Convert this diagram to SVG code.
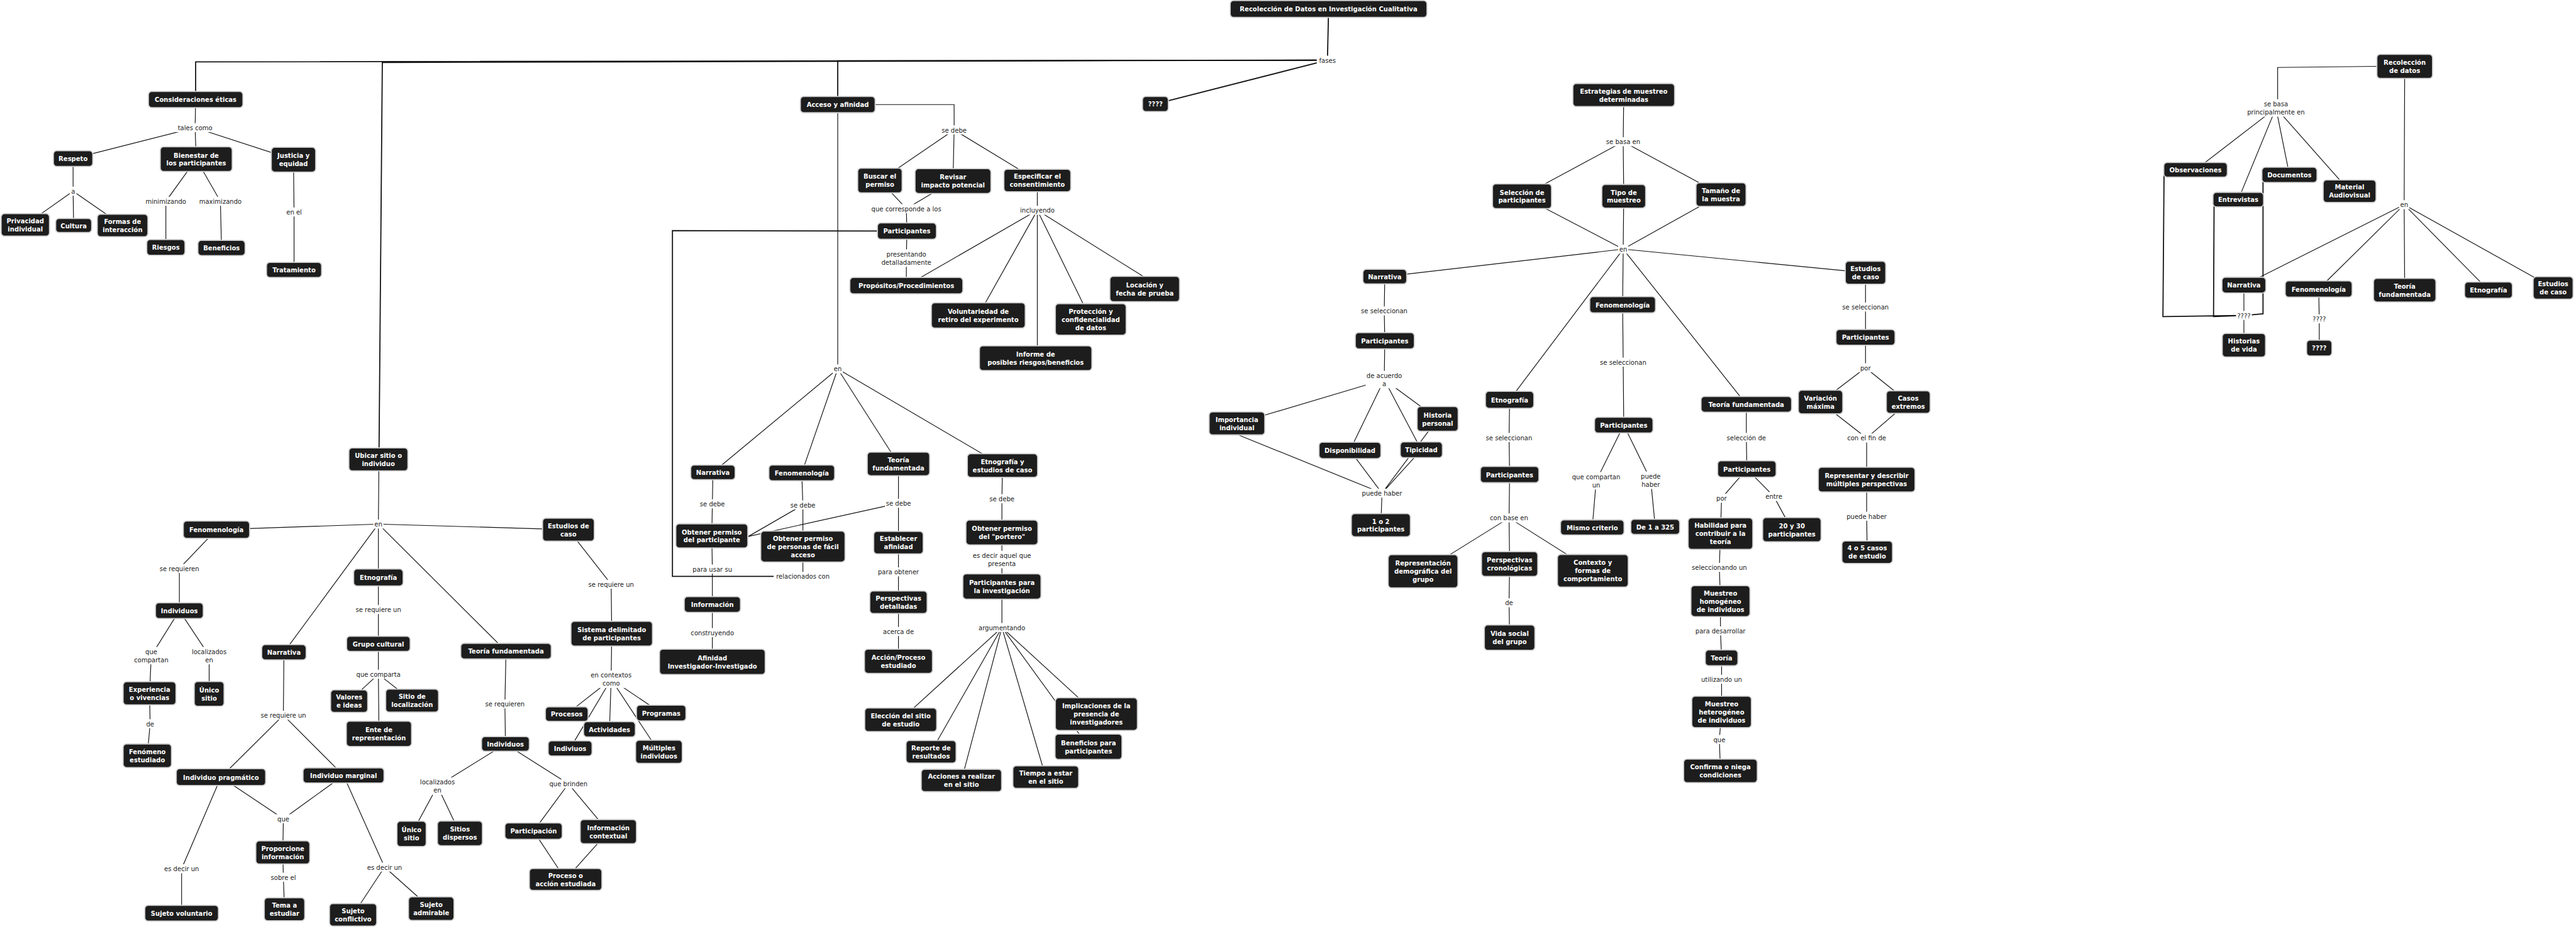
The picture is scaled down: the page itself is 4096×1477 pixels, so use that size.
<svg xmlns="http://www.w3.org/2000/svg" width="4096" height="1477" viewBox="0 0 4096 1477">
<style>
.bg{fill:#fff}
.c path{stroke:#111;stroke-width:1.3;fill:none}
.c path.t{stroke-width:2}
.n rect{fill:#1d1d1d;stroke:#cfcfcf;stroke-width:2;rx:6px;ry:6px}
.n text{fill:#fff;font-family:"DejaVu Sans Condensed","DejaVu Sans",sans-serif;font-stretch:condensed;font-weight:bold;font-size:12.5px;text-anchor:middle}
.l rect{fill:#fff}
.l text{fill:#1a1a1a;font-family:"DejaVu Sans Condensed","DejaVu Sans",sans-serif;font-stretch:condensed;font-size:12.5px;text-anchor:middle}
</style>
<rect class="bg" x="0" y="0" width="4096" height="1477"/>
<g transform="scale(0.894)">
<g id="connectors" class="c">
<path class="t" d="M2363 16L2361 107"/>
<path class="t" d="M2361 107L348 110L348 177"/>
<path class="t" d="M2361 107L680 111L674 817"/>
<path class="t" d="M2361 107L1490 108L1490 186"/>
<path class="t" d="M2361 107L2055 185"/>
<path d="M348 177L347 227M347 227L130 282M347 227L349 283M347 227L522 284"/>
<path d="M130 282L130 340M130 340L45 400M130 340L131 401M130 340L218 401"/>
<path d="M349 283L295 358L295 440M349 283L392 358L394 441M522 284L523 377L523 480"/>
<path d="M674 817L673 932M673 932L385 942M673 932L1011 942M673 932L673 1027M673 932L505 1160M673 932L900 1158"/>
<path d="M385 942L319 1011L319 1086M319 1086L269 1166L266 1233L267 1287L262 1344M319 1086L372 1166L372 1234"/>
<path d="M673 1027L673 1084L673 1145L673 1199L674 1305M673 1199L621 1247M673 1199L733 1246"/>
<path d="M505 1160L504 1272M504 1272L393 1382M504 1272L611 1379M393 1382L504 1456M611 1379L504 1456M504 1456L503 1516L504 1560L506 1617"/>
<path d="M393 1382L323 1545L323 1624M611 1379L684 1542M684 1542L628 1627M684 1542L767 1616"/>
<path d="M900 1158L898 1252L899 1323M899 1323L778 1398M778 1398L732 1483M778 1398L818 1482M899 1323L1011 1394M1011 1394L949 1478M1011 1394L1082 1479M949 1478L1006 1564M1082 1479L1006 1564"/>
<path d="M1011 942L1087 1039L1088 1127L1087 1208M1087 1208L1008 1270M1087 1208L1084 1297M1087 1208L1014 1331M1087 1208L1176 1268M1087 1208L1172 1337"/>
<path d="M1556 186L1697 186L1697 231M1697 231L1565 321M1697 231L1695 322M1697 231L1845 321"/>
<path d="M1565 321L1612 371M1695 322L1612 371M1612 371L1613 411L1612 459L1612 508"/>
<path d="M1845 321L1845 374M1845 374L1612 508M1845 374L1740 561M1845 374L1845 637M1845 374L1940 568M1845 374L2034 492"/>
<path d="M1490 186L1490 656M1490 656L1268 840M1490 656L1426 841M1490 656L1598 825M1490 656L1783 828"/>
<path d="M1268 840L1267 896L1266 953L1267 1012L1267 1075L1267 1125L1267 1177"/>
<path d="M1426 841L1428 898L1428 972L1428 1025M1428 898L1331 954"/>
<path d="M1598 825L1598 895L1598 965L1598 1017L1598 1071L1598 1123L1598 1176M1598 895L1331 954"/>
<path d="M1783 828L1782 887L1782 947L1782 995L1782 1043L1782 1116"/>
<path d="M1782 1116L1602 1280M1782 1116L1656 1337M1782 1116L1710 1388M1782 1116L1860 1382M1782 1116L1950 1270M1782 1116L1936 1328"/>
<path class="t" d="M1428 1025L1196 1025L1196 410L1613 411"/>
<path d="M2888 169L2887 252M2887 252L2707 349M2887 252L2888 349M2887 252L3061 346M2707 349L2887 443M2888 349L2887 443M3061 346L2887 443"/>
<path d="M2887 443L2463 492M2887 443L2886 542M2887 443L3318 485M2887 443L2685 711M2887 443L3106 719"/>
<path d="M2463 492L2462 553L2463 606L2462 675M2462 675L2200 753M2462 675L2401 801M2462 675L2528 800M2462 675L2557 745"/>
<path d="M2204 774L2458 877M2401 801L2458 877M2528 800L2458 877M2557 745L2458 877M2458 877L2456 934"/>
<path d="M2685 711L2684 778L2685 844L2684 921M2684 921L2531 1016M2684 921L2685 1003M2684 921L2833 1015M2685 1003L2684 1072L2685 1134"/>
<path d="M2886 542L2887 644L2888 756M2888 756L2839 855L2832 938M2888 756L2936 854L2944 937"/>
<path d="M3106 719L3106 778L3107 834M3107 834L3062 886L3060 949M3107 834L3155 883L3187 942"/>
<path d="M3060 949L3058 1009L3060 1069L3060 1122L3062 1170L3062 1208L3062 1266L3058 1315L3060 1371"/>
<path d="M3318 485L3318 546L3318 600L3318 654M3318 654L3238 715M3318 654L3394 715M3238 715L3320 779M3394 715L3320 779M3320 779L3320 853L3320 918L3321 982"/>
<path d="M4227 118L4051 120L4051 192M4048 192L3905 302M4048 192L3981 355M4048 192L4072 311M4048 192L4179 340"/>
<path d="M4277 118L4276 364M4276 364L3991 507M4276 364L4124 514M4276 364L4277 516M4276 364L4426 516M4276 364L4541 512"/>
<path class="t" d="M3849 302L3847 563L3991 561M3938 355L3937 563L3991 561M4025 311L4025 558L3991 561"/>
<path d="M3991 507L3991 561L3991 614M4124 514L4125 567L4125 619"/>
</g>
<g id="labels" class="l">
<g><rect x="2342" y="99" width="38" height="16"/><text x="2361" y="111.5">fases</text></g>
<g><rect x="312" y="219" width="70" height="16"/><text x="347" y="231.5">tales como</text></g>
<g><rect x="124" y="332" width="12" height="16"/><text x="130" y="344.5">a</text></g>
<g><rect x="257" y="350" width="76" height="16"/><text x="295" y="362.5">minimizando</text></g>
<g><rect x="353" y="350" width="78" height="16"/><text x="392" y="362.5">maximizando</text></g>
<g><rect x="505" y="369" width="36" height="16"/><text x="523" y="381.5">en el</text></g>
<g><rect x="664" y="924" width="18" height="16"/><text x="673" y="936.5">en</text></g>
<g><rect x="279" y="1003" width="80" height="16"/><text x="319" y="1015.5">se requieren</text></g>
<g><rect x="236" y="1150.5" width="66" height="31"/><text x="269" y="1163.25">que<tspan x="269" dy="14.5">compartan</tspan></text></g>
<g><rect x="337" y="1150.5" width="70" height="31"/><text x="372" y="1163.25">localizados<tspan x="372" dy="14.5">en</tspan></text></g>
<g><rect x="258" y="1279" width="18" height="16"/><text x="267" y="1291.5">de</text></g>
<g><rect x="628" y="1076" width="90" height="16"/><text x="673" y="1088.5">se requiere un</text></g>
<g><rect x="632" y="1191" width="82" height="16"/><text x="673" y="1203.5">que comparta</text></g>
<g><rect x="459" y="1264" width="90" height="16"/><text x="504" y="1276.5">se requiere un</text></g>
<g><rect x="491" y="1448" width="26" height="16"/><text x="504" y="1460.5">que</text></g>
<g><rect x="478" y="1552" width="52" height="16"/><text x="504" y="1564.5">sobre el</text></g>
<g><rect x="289" y="1537" width="68" height="16"/><text x="323" y="1549.5">es decir un</text></g>
<g><rect x="650" y="1534" width="68" height="16"/><text x="684" y="1546.5">es decir un</text></g>
<g><rect x="858" y="1244" width="80" height="16"/><text x="898" y="1256.5">se requieren</text></g>
<g><rect x="743" y="1382.5" width="70" height="31"/><text x="778" y="1395.25">localizados<tspan x="778" dy="14.5">en</tspan></text></g>
<g><rect x="975" y="1386" width="72" height="16"/><text x="1011" y="1398.5">que brinden</text></g>
<g><rect x="1042" y="1031" width="90" height="16"/><text x="1087" y="1043.5">se requiere un</text></g>
<g><rect x="1047" y="1192.5" width="80" height="31"/><text x="1087" y="1205.25">en contextos<tspan x="1087" dy="14.5">como</tspan></text></g>
<g><rect x="1673" y="223" width="48" height="16"/><text x="1697" y="235.5">se debe</text></g>
<g><rect x="1544" y="363" width="136" height="16"/><text x="1612" y="375.5">que corresponde a los</text></g>
<g><rect x="1565" y="443.5" width="94" height="31"/><text x="1612" y="456.25">presentando<tspan x="1612" dy="14.5">detalladamente</tspan></text></g>
<g><rect x="1812" y="366" width="66" height="16"/><text x="1845" y="378.5">incluyendo</text></g>
<g><rect x="1481" y="648" width="18" height="16"/><text x="1490" y="660.5">en</text></g>
<g><rect x="1243" y="888" width="48" height="16"/><text x="1267" y="900.5">se debe</text></g>
<g><rect x="1404" y="890" width="48" height="16"/><text x="1428" y="902.5">se debe</text></g>
<g><rect x="1574" y="887" width="48" height="16"/><text x="1598" y="899.5">se debe</text></g>
<g><rect x="1758" y="879" width="48" height="16"/><text x="1782" y="891.5">se debe</text></g>
<g><rect x="1229" y="1004" width="76" height="16"/><text x="1267" y="1016.5">para usar su</text></g>
<g><rect x="1376" y="1017" width="104" height="16"/><text x="1428" y="1029.5">relacionados con</text></g>
<g><rect x="1227" y="1117" width="80" height="16"/><text x="1267" y="1129.5">construyendo</text></g>
<g><rect x="1559" y="1009" width="78" height="16"/><text x="1598" y="1021.5">para obtener</text></g>
<g><rect x="1569" y="1115" width="58" height="16"/><text x="1598" y="1127.5">acerca de</text></g>
<g><rect x="1726" y="979.5" width="112" height="31"/><text x="1782" y="992.25">es decir aquel que<tspan x="1782" dy="14.5">presenta</tspan></text></g>
<g><rect x="1740" y="1108" width="84" height="16"/><text x="1782" y="1120.5">argumentando</text></g>
<g><rect x="2855" y="244" width="64" height="16"/><text x="2887" y="256.5">se basa en</text></g>
<g><rect x="2878" y="435" width="18" height="16"/><text x="2887" y="447.5">en</text></g>
<g><rect x="2417" y="545" width="90" height="16"/><text x="2462" y="557.5">se seleccionan</text></g>
<g><rect x="2429" y="659.5" width="66" height="31"/><text x="2462" y="672.25">de acuerdo<tspan x="2462" dy="14.5">a</tspan></text></g>
<g><rect x="2421" y="869" width="74" height="16"/><text x="2458" y="881.5">puede haber</text></g>
<g><rect x="2639" y="770" width="90" height="16"/><text x="2684" y="782.5">se seleccionan</text></g>
<g><rect x="2648" y="913" width="72" height="16"/><text x="2684" y="925.5">con base en</text></g>
<g><rect x="2675" y="1064" width="18" height="16"/><text x="2684" y="1076.5">de</text></g>
<g><rect x="2842" y="636" width="90" height="16"/><text x="2887" y="648.5">se seleccionan</text></g>
<g><rect x="2795" y="839.5" width="88" height="31"/><text x="2839" y="852.25">que compartan<tspan x="2839" dy="14.5">un</tspan></text></g>
<g><rect x="2916" y="838.5" width="40" height="31"/><text x="2936" y="851.25">puede<tspan x="2936" dy="14.5">haber</tspan></text></g>
<g><rect x="3068" y="770" width="76" height="16"/><text x="3106" y="782.5">selección de</text></g>
<g><rect x="3050" y="878" width="24" height="16"/><text x="3062" y="890.5">por</text></g>
<g><rect x="3137" y="875" width="36" height="16"/><text x="3155" y="887.5">entre</text></g>
<g><rect x="3006" y="1001" width="104" height="16"/><text x="3058" y="1013.5">seleccionando un</text></g>
<g><rect x="3010" y="1114" width="100" height="16"/><text x="3060" y="1126.5">para desarrollar</text></g>
<g><rect x="3022" y="1200" width="80" height="16"/><text x="3062" y="1212.5">utilizando un</text></g>
<g><rect x="3045" y="1307" width="26" height="16"/><text x="3058" y="1319.5">que</text></g>
<g><rect x="3273" y="538" width="90" height="16"/><text x="3318" y="550.5">se seleccionan</text></g>
<g><rect x="3306" y="646" width="24" height="16"/><text x="3318" y="658.5">por</text></g>
<g><rect x="3281" y="771" width="78" height="16"/><text x="3320" y="783.5">con el fin de</text></g>
<g><rect x="3283" y="910" width="74" height="16"/><text x="3320" y="922.5">puede haber</text></g>
<g><rect x="3995" y="176.5" width="106" height="31"/><text x="4048" y="189.25">se basa<tspan x="4048" dy="14.5">principalmente en</tspan></text></g>
<g><rect x="4267" y="356" width="18" height="16"/><text x="4276" y="368.5">en</text></g>
<g><rect x="3977" y="553" width="28" height="16"/><text x="3991" y="565.5">????</text></g>
<g><rect x="4111" y="559" width="28" height="16"/><text x="4125" y="571.5">????</text></g>
</g>
<g id="nodes">
<g id="n_root" class="n"><rect x="2188" y="1" width="350" height="30"/><text x="2363" y="20.5">Recolección de Datos en Investigación Cualitativa</text></g>
<g id="n_q1" class="n"><rect x="2032" y="171.5" width="46" height="27"/><text x="2055" y="189.5">????</text></g>
<g id="n_etica" class="n"><rect x="264" y="162.5" width="168" height="29"/><text x="348" y="181.5">Consideraciones éticas</text></g>
<g id="n_respeto" class="n"><rect x="95" y="268" width="70" height="28"/><text x="130" y="286.5">Respeto</text></g>
<g id="n_bienestar" class="n"><rect x="285" y="261" width="128" height="44"/><text x="349" y="280.25">Bienestar de<tspan x="349" dy="14.5">los participantes</tspan></text></g>
<g id="n_justicia" class="n"><rect x="482.5" y="262" width="79" height="44"/><text x="522" y="281.25">Justicia y<tspan x="522" dy="14.5">equidad</tspan></text></g>
<g id="n_privacidad" class="n"><rect x="2" y="380" width="86" height="40"/><text x="45" y="397.25">Privacidad<tspan x="45" dy="14.5">individual</tspan></text></g>
<g id="n_cultura" class="n"><rect x="99" y="388.5" width="64" height="25"/><text x="131" y="405.5">Cultura</text></g>
<g id="n_formas" class="n"><rect x="173" y="381" width="90" height="40"/><text x="218" y="398.25">Formas de<tspan x="218" dy="14.5">interacción</tspan></text></g>
<g id="n_riesgos" class="n"><rect x="261" y="426" width="68" height="28"/><text x="295" y="444.5">Riesgos</text></g>
<g id="n_beneficios" class="n"><rect x="352" y="427.5" width="84" height="27"/><text x="394" y="445.5">Beneficios</text></g>
<g id="n_tratamiento" class="n"><rect x="474" y="466.5" width="98" height="27"/><text x="523" y="484.5">Tratamiento</text></g>
<g id="n_ubicar" class="n"><rect x="620.5" y="796.5" width="105" height="41"/><text x="673" y="814.25">Ubicar sitio o<tspan x="673" dy="14.5">individuo</tspan></text></g>
<g id="n_fen1" class="n"><rect x="326" y="926.5" width="118" height="31"/><text x="385" y="946.5">Fenomenología</text></g>
<g id="n_est1" class="n"><rect x="965" y="921.5" width="92" height="41"/><text x="1011" y="939.25">Estudios de<tspan x="1011" dy="14.5">caso</tspan></text></g>
<g id="n_etn1" class="n"><rect x="629" y="1012" width="88" height="30"/><text x="673" y="1031.5">Etnografía</text></g>
<g id="n_ind1" class="n"><rect x="276.5" y="1072" width="85" height="28"/><text x="319" y="1090.5">Individuos</text></g>
<g id="n_exp" class="n"><rect x="219" y="1212.5" width="94" height="41"/><text x="266" y="1230.25">Experiencia<tspan x="266" dy="14.5">o vivencias</tspan></text></g>
<g id="n_unico1" class="n"><rect x="345.5" y="1212" width="53" height="44"/><text x="372" y="1231.25">Único<tspan x="372" dy="14.5">sitio</tspan></text></g>
<g id="n_fenomeno" class="n"><rect x="219" y="1323" width="86" height="42"/><text x="262" y="1341.25">Fenómeno<tspan x="262" dy="14.5">estudiado</tspan></text></g>
<g id="n_nar1" class="n"><rect x="465.5" y="1146.5" width="79" height="27"/><text x="505" y="1164.5">Narrativa</text></g>
<g id="n_grupo" class="n"><rect x="616.5" y="1131.5" width="113" height="27"/><text x="673" y="1149.5">Grupo cultural</text></g>
<g id="n_valores" class="n"><rect x="588" y="1227" width="66" height="40"/><text x="621" y="1244.25">Valores<tspan x="621" dy="14.5">e ideas</tspan></text></g>
<g id="n_sitioloc" class="n"><rect x="686" y="1225.5" width="94" height="41"/><text x="733" y="1243.25">Sitio de<tspan x="733" dy="14.5">localización</tspan></text></g>
<g id="n_ente" class="n"><rect x="616" y="1282.5" width="116" height="45"/><text x="674" y="1302.25">Ente de<tspan x="674" dy="14.5">representación</tspan></text></g>
<g id="n_pragm" class="n"><rect x="313.5" y="1367" width="159" height="30"/><text x="393" y="1386.5">Individuo pragmático</text></g>
<g id="n_marg" class="n"><rect x="539" y="1365.5" width="144" height="27"/><text x="611" y="1383.5">Individuo marginal</text></g>
<g id="n_proporc" class="n"><rect x="455" y="1495.5" width="96" height="41"/><text x="503" y="1513.25">Proporcione<tspan x="503" dy="14.5">información</tspan></text></g>
<g id="n_tema" class="n"><rect x="470" y="1596.5" width="72" height="41"/><text x="506" y="1614.25">Tema a<tspan x="506" dy="14.5">estudiar</tspan></text></g>
<g id="n_volunt" class="n"><rect x="257.5" y="1610" width="131" height="28"/><text x="323" y="1628.5">Sujeto voluntario</text></g>
<g id="n_conflic" class="n"><rect x="586" y="1607" width="84" height="40"/><text x="628" y="1624.25">Sujeto<tspan x="628" dy="14.5">conflictivo</tspan></text></g>
<g id="n_admir" class="n"><rect x="726.5" y="1595" width="81" height="42"/><text x="767" y="1613.25">Sujeto<tspan x="767" dy="14.5">admirable</tspan></text></g>
<g id="n_teo1" class="n"><rect x="819.5" y="1144" width="161" height="28"/><text x="900" y="1162.5">Teoría fundamentada</text></g>
<g id="n_ind2" class="n"><rect x="856.5" y="1310" width="85" height="26"/><text x="899" y="1327.5">Individuos</text></g>
<g id="n_unico2" class="n"><rect x="706" y="1460.5" width="52" height="45"/><text x="732" y="1480.25">Único<tspan x="732" dy="14.5">sitio</tspan></text></g>
<g id="n_dispersos" class="n"><rect x="778" y="1460" width="80" height="44"/><text x="818" y="1479.25">Sitios<tspan x="818" dy="14.5">dispersos</tspan></text></g>
<g id="n_particip" class="n"><rect x="898" y="1463.5" width="102" height="29"/><text x="949" y="1482.5">Participación</text></g>
<g id="n_infoctx" class="n"><rect x="1032" y="1457.5" width="100" height="43"/><text x="1082" y="1476.25">Información<tspan x="1082" dy="14.5">contextual</tspan></text></g>
<g id="n_proceso" class="n"><rect x="941.5" y="1544.5" width="129" height="39"/><text x="1006" y="1561.25">Proceso o<tspan x="1006" dy="14.5">acción estudiada</tspan></text></g>
<g id="n_sistema" class="n"><rect x="1015.5" y="1105" width="145" height="44"/><text x="1088" y="1124.25">Sistema delimitado<tspan x="1088" dy="14.5">de participantes</tspan></text></g>
<g id="n_procesos" class="n"><rect x="970" y="1257" width="76" height="26"/><text x="1008" y="1274.5">Procesos</text></g>
<g id="n_activ" class="n"><rect x="1038" y="1283.5" width="92" height="27"/><text x="1084" y="1301.5">Actividades</text></g>
<g id="n_indiv" class="n"><rect x="975" y="1317.5" width="78" height="27"/><text x="1014" y="1335.5">Indiviuos</text></g>
<g id="n_progr" class="n"><rect x="1132" y="1254" width="88" height="28"/><text x="1176" y="1272.5">Programas</text></g>
<g id="n_multi" class="n"><rect x="1130.5" y="1316.5" width="83" height="41"/><text x="1172" y="1334.25">Múltiples<tspan x="1172" dy="14.5">individuos</tspan></text></g>
<g id="n_acceso" class="n"><rect x="1423.5" y="171.5" width="133" height="29"/><text x="1490" y="190.5">Acceso y afinidad</text></g>
<g id="n_buscar" class="n"><rect x="1525.5" y="299" width="79" height="44"/><text x="1565" y="318.25">Buscar el<tspan x="1565" dy="14.5">permiso</tspan></text></g>
<g id="n_revisar" class="n"><rect x="1627.5" y="300" width="135" height="44"/><text x="1695" y="319.25">Revisar<tspan x="1695" dy="14.5">impacto potencial</tspan></text></g>
<g id="n_especif" class="n"><rect x="1785.5" y="301" width="119" height="40"/><text x="1845" y="318.25">Especificar el<tspan x="1845" dy="14.5">consentimiento</tspan></text></g>
<g id="n_part1" class="n"><rect x="1560.5" y="396.5" width="105" height="29"/><text x="1613" y="415.5">Participantes</text></g>
<g id="n_propos" class="n"><rect x="1511.5" y="493.5" width="201" height="29"/><text x="1612" y="512.5">Propósitos/Procedimientos</text></g>
<g id="n_locac" class="n"><rect x="1974" y="491.5" width="124" height="45"/><text x="2036" y="511.25">Locación y<tspan x="2036" dy="14.5">fecha de prueba</tspan></text></g>
<g id="n_volret" class="n"><rect x="1656.5" y="538.5" width="167" height="45"/><text x="1740" y="558.25">Voluntariedad de<tspan x="1740" dy="14.5">retiro del experimento</tspan></text></g>
<g id="n_protec" class="n"><rect x="1877" y="540" width="126" height="56"/><text x="1940" y="558">Protección y<tspan x="1940" dy="14.5">confidencialidad</tspan><tspan x="1940" dy="14.5">de datos</tspan></text></g>
<g id="n_informe" class="n"><rect x="1742" y="615" width="200" height="44"/><text x="1842" y="634.25">Informe de<tspan x="1842" dy="14.5">posibles riesgos/beneficios</tspan></text></g>
<g id="n_nar2" class="n"><rect x="1228.5" y="827" width="79" height="26"/><text x="1268" y="844.5">Narrativa</text></g>
<g id="n_fen2" class="n"><rect x="1367.5" y="827" width="117" height="28"/><text x="1426" y="845.5">Fenomenología</text></g>
<g id="n_teo2" class="n"><rect x="1542.5" y="804" width="111" height="42"/><text x="1598" y="822.25">Teoría<tspan x="1598" dy="14.5">fundamentada</tspan></text></g>
<g id="n_etnest" class="n"><rect x="1720.5" y="807" width="125" height="42"/><text x="1783" y="825.25">Etnografía y<tspan x="1783" dy="14.5">estudios de caso</tspan></text></g>
<g id="n_obtpart" class="n"><rect x="1202" y="931.5" width="128" height="43"/><text x="1266" y="950.25">Obtener permiso<tspan x="1266" dy="14.5">del participante</tspan></text></g>
<g id="n_obtpers" class="n"><rect x="1353" y="944.5" width="150" height="55"/><text x="1428" y="962">Obtener permiso<tspan x="1428" dy="14.5">de personas de fácil</tspan><tspan x="1428" dy="14.5">acceso</tspan></text></g>
<g id="n_establ" class="n"><rect x="1554" y="945" width="88" height="40"/><text x="1598" y="962.25">Establecer<tspan x="1598" dy="14.5">afinidad</tspan></text></g>
<g id="n_portero" class="n"><rect x="1718" y="925" width="128" height="44"/><text x="1782" y="944.25">Obtener permiso<tspan x="1782" dy="14.5">del "portero"</tspan></text></g>
<g id="n_info" class="n"><rect x="1217" y="1061" width="100" height="28"/><text x="1267" y="1079.5">Información</text></g>
<g id="n_afinidad" class="n"><rect x="1173" y="1154.5" width="188" height="45"/><text x="1267" y="1174.25">Afinidad<tspan x="1267" dy="14.5">Investigador-Investigado</tspan></text></g>
<g id="n_perspdet" class="n"><rect x="1547" y="1051" width="102" height="40"/><text x="1598" y="1068.25">Perspectivas<tspan x="1598" dy="14.5">detalladas</tspan></text></g>
<g id="n_accion" class="n"><rect x="1537.5" y="1154.5" width="121" height="43"/><text x="1598" y="1173.25">Acción/Proceso<tspan x="1598" dy="14.5">estudiado</tspan></text></g>
<g id="n_partinv" class="n"><rect x="1712.5" y="1020.5" width="139" height="45"/><text x="1782" y="1040.25">Participantes para<tspan x="1782" dy="14.5">la investigación</tspan></text></g>
<g id="n_eleccion" class="n"><rect x="1538" y="1259" width="128" height="42"/><text x="1602" y="1277.25">Elección del sitio<tspan x="1602" dy="14.5">de estudio</tspan></text></g>
<g id="n_reporte" class="n"><rect x="1611.5" y="1317" width="89" height="40"/><text x="1656" y="1334.25">Reporte de<tspan x="1656" dy="14.5">resultados</tspan></text></g>
<g id="n_acciones" class="n"><rect x="1638.5" y="1368" width="143" height="40"/><text x="1710" y="1385.25">Acciones a realizar<tspan x="1710" dy="14.5">en el sitio</tspan></text></g>
<g id="n_tiempo" class="n"><rect x="1801.5" y="1362" width="117" height="40"/><text x="1860" y="1379.25">Tiempo a estar<tspan x="1860" dy="14.5">en el sitio</tspan></text></g>
<g id="n_implic" class="n"><rect x="1877" y="1241" width="146" height="58"/><text x="1950" y="1260">Implicaciones de la<tspan x="1950" dy="14.5">presencia de</tspan><tspan x="1950" dy="14.5">investigadores</tspan></text></g>
<g id="n_benef" class="n"><rect x="1876.5" y="1305.5" width="119" height="45"/><text x="1936" y="1325.25">Beneficios para<tspan x="1936" dy="14.5">participantes</tspan></text></g>
<g id="n_import" class="n"><rect x="2150.5" y="732.5" width="99" height="41"/><text x="2200" y="750.25">Importancia<tspan x="2200" dy="14.5">individual</tspan></text></g>
<g id="n_estrat" class="n"><rect x="2797.5" y="148.5" width="181" height="41"/><text x="2888" y="166.25">Estrategias de muestreo<tspan x="2888" dy="14.5">determinadas</tspan></text></g>
<g id="n_selecc" class="n"><rect x="2654.5" y="327" width="105" height="44"/><text x="2707" y="346.25">Selección de<tspan x="2707" dy="14.5">participantes</tspan></text></g>
<g id="n_tipo" class="n"><rect x="2849" y="328" width="78" height="42"/><text x="2888" y="346.25">Tipo de<tspan x="2888" dy="14.5">muestreo</tspan></text></g>
<g id="n_tamano" class="n"><rect x="3016.5" y="325" width="89" height="42"/><text x="3061" y="343.25">Tamaño de<tspan x="3061" dy="14.5">la muestra</tspan></text></g>
<g id="n_nar3" class="n"><rect x="2424" y="479" width="78" height="26"/><text x="2463" y="496.5">Narrativa</text></g>
<g id="n_fen3" class="n"><rect x="2827.5" y="527.5" width="117" height="29"/><text x="2886" y="546.5">Fenomenología</text></g>
<g id="n_est3" class="n"><rect x="3282" y="464.5" width="72" height="41"/><text x="3318" y="482.25">Estudios<tspan x="3318" dy="14.5">de caso</tspan></text></g>
<g id="n_etn3" class="n"><rect x="2642" y="696" width="86" height="30"/><text x="2685" y="715.5">Etnografía</text></g>
<g id="n_teo3" class="n"><rect x="3025.5" y="705" width="161" height="28"/><text x="3106" y="723.5">Teoría fundamentada</text></g>
<g id="n_part3a" class="n"><rect x="2410.5" y="591.5" width="105" height="29"/><text x="2463" y="610.5">Participantes</text></g>
<g id="n_histpers" class="n"><rect x="2520.5" y="723" width="73" height="44"/><text x="2557" y="742.25">Historia<tspan x="2557" dy="14.5">personal</tspan></text></g>
<g id="n_dispon" class="n"><rect x="2346" y="786.5" width="110" height="29"/><text x="2401" y="805.5">Disponibilidad</text></g>
<g id="n_tipic" class="n"><rect x="2490.5" y="786" width="75" height="28"/><text x="2528" y="804.5">Tipicidad</text></g>
<g id="n_1o2" class="n"><rect x="2403.5" y="913.5" width="105" height="41"/><text x="2456" y="931.25">1 o 2<tspan x="2456" dy="14.5">participantes</tspan></text></g>
<g id="n_part3b" class="n"><rect x="2633" y="829.5" width="104" height="29"/><text x="2685" y="848.5">Participantes</text></g>
<g id="n_repdem" class="n"><rect x="2469" y="986.5" width="124" height="59"/><text x="2531" y="1006">Representación<tspan x="2531" dy="14.5">demográfica del</tspan><tspan x="2531" dy="14.5">grupo</tspan></text></g>
<g id="n_perscron" class="n"><rect x="2635" y="981" width="100" height="44"/><text x="2685" y="1000.25">Perspectivas<tspan x="2685" dy="14.5">cronológicas</tspan></text></g>
<g id="n_contexto" class="n"><rect x="2770" y="986" width="126" height="58"/><text x="2833" y="1005">Contexto y<tspan x="2833" dy="14.5">formas de</tspan><tspan x="2833" dy="14.5">comportamiento</tspan></text></g>
<g id="n_vidasoc" class="n"><rect x="2640" y="1111.5" width="90" height="45"/><text x="2685" y="1131.25">Vida social<tspan x="2685" dy="14.5">del grupo</tspan></text></g>
<g id="n_part3c" class="n"><rect x="2836" y="742" width="104" height="28"/><text x="2888" y="760.5">Participantes</text></g>
<g id="n_mismo" class="n"><rect x="2775.5" y="924.5" width="113" height="27"/><text x="2832" y="942.5">Mismo criterio</text></g>
<g id="n_de1a325" class="n"><rect x="2900.5" y="923.5" width="87" height="27"/><text x="2944" y="941.5">De 1 a 325</text></g>
<g id="n_part3d" class="n"><rect x="3055" y="819.5" width="104" height="29"/><text x="3107" y="838.5">Participantes</text></g>
<g id="n_habil" class="n"><rect x="3002.5" y="921" width="115" height="56"/><text x="3060" y="939">Habilidad para<tspan x="3060" dy="14.5">contribuir a la</tspan><tspan x="3060" dy="14.5">teoría</tspan></text></g>
<g id="n_20y30" class="n"><rect x="3135" y="920.5" width="104" height="43"/><text x="3187" y="939.25">20 y 30<tspan x="3187" dy="14.5">participantes</tspan></text></g>
<g id="n_homog" class="n"><rect x="3007.5" y="1041.5" width="105" height="55"/><text x="3060" y="1059">Muestreo<tspan x="3060" dy="14.5">homogéneo</tspan><tspan x="3060" dy="14.5">de individuos</tspan></text></g>
<g id="n_teoria" class="n"><rect x="3033" y="1156" width="58" height="28"/><text x="3062" y="1174.5">Teoría</text></g>
<g id="n_heterog" class="n"><rect x="3009" y="1238" width="106" height="56"/><text x="3062" y="1256">Muestreo<tspan x="3062" dy="14.5">heterogéneo</tspan><tspan x="3062" dy="14.5">de individuos</tspan></text></g>
<g id="n_confirma" class="n"><rect x="2994.5" y="1350" width="131" height="42"/><text x="3060" y="1368.25">Confirma o niega<tspan x="3060" dy="14.5">condiciones</tspan></text></g>
<g id="n_part3e" class="n"><rect x="3265.5" y="586" width="105" height="28"/><text x="3318" y="604.5">Participantes</text></g>
<g id="n_variac" class="n"><rect x="3198.5" y="694" width="79" height="42"/><text x="3238" y="712.25">Variación<tspan x="3238" dy="14.5">máxima</tspan></text></g>
<g id="n_casos" class="n"><rect x="3355" y="695" width="78" height="40"/><text x="3394" y="712.25">Casos<tspan x="3394" dy="14.5">extremos</tspan></text></g>
<g id="n_represent" class="n"><rect x="3234" y="831" width="172" height="44"/><text x="3320" y="850.25">Representar y describir<tspan x="3320" dy="14.5">múltiples perspectivas</tspan></text></g>
<g id="n_4o5" class="n"><rect x="3276" y="962" width="90" height="40"/><text x="3321" y="979.25">4 o 5 casos<tspan x="3321" dy="14.5">de estudio</tspan></text></g>
<g id="n_recol" class="n"><rect x="4227.5" y="96.5" width="99" height="43"/><text x="4277" y="115.25">Recolección<tspan x="4277" dy="14.5">de datos</tspan></text></g>
<g id="n_observ" class="n"><rect x="3848.5" y="289" width="113" height="26"/><text x="3905" y="306.5">Observaciones</text></g>
<g id="n_docs" class="n"><rect x="4023" y="297.5" width="98" height="27"/><text x="4072" y="315.5">Documentos</text></g>
<g id="n_material" class="n"><rect x="4132" y="320" width="94" height="40"/><text x="4179" y="337.25">Material<tspan x="4179" dy="14.5">Audiovisual</tspan></text></g>
<g id="n_entrev" class="n"><rect x="3936" y="342" width="90" height="26"/><text x="3981" y="359.5">Entrevistas</text></g>
<g id="n_nar4" class="n"><rect x="3952" y="493" width="78" height="28"/><text x="3991" y="511.5">Narrativa</text></g>
<g id="n_fen4" class="n"><rect x="4064.5" y="499.5" width="119" height="29"/><text x="4124" y="518.5">Fenomenología</text></g>
<g id="n_teo4" class="n"><rect x="4221.5" y="495" width="111" height="42"/><text x="4277" y="513.25">Teoría<tspan x="4277" dy="14.5">fundamentada</tspan></text></g>
<g id="n_etn4" class="n"><rect x="4383.5" y="501.5" width="85" height="29"/><text x="4426" y="520.5">Etnografía</text></g>
<g id="n_est4" class="n"><rect x="4505.5" y="492" width="71" height="40"/><text x="4541" y="509.25">Estudios<tspan x="4541" dy="14.5">de caso</tspan></text></g>
<g id="n_hist" class="n"><rect x="3952.5" y="593" width="77" height="42"/><text x="3991" y="611.25">Historias<tspan x="3991" dy="14.5">de vida</tspan></text></g>
<g id="n_q2" class="n"><rect x="4102.5" y="605" width="45" height="28"/><text x="4125" y="623.5">????</text></g>
</g>
</g>
</svg>
